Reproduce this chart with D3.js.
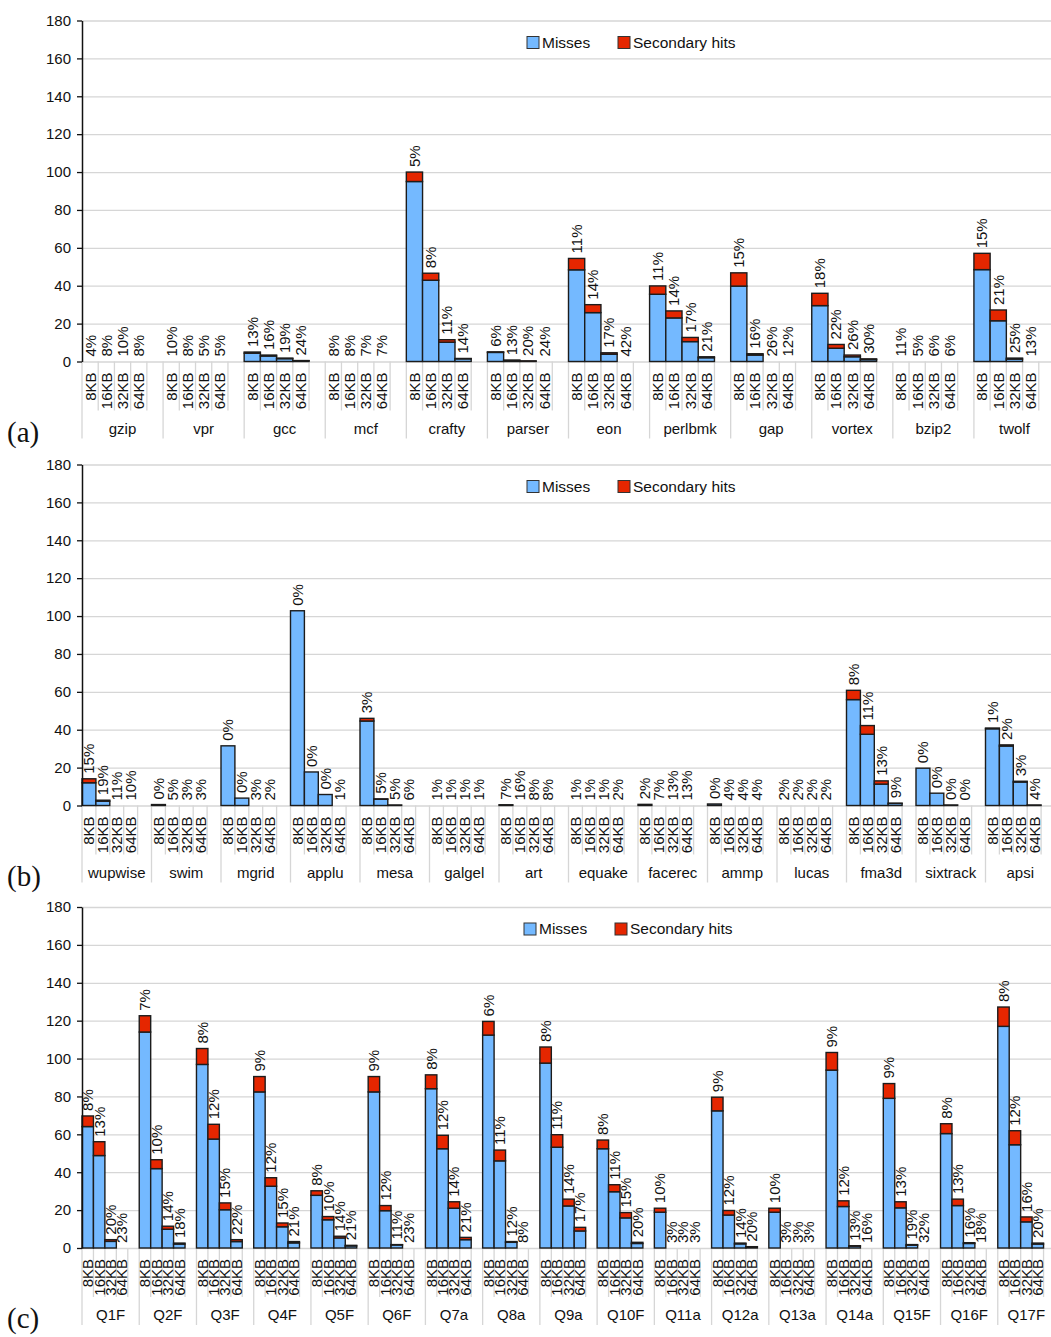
<!DOCTYPE html>
<html><head><meta charset="utf-8">
<script src="https://cdn.jsdelivr.net/npm/d3@7"></script>
<style>
body{margin:0;background:#fff}
svg text{font-family:Arial,"Liberation Sans",sans-serif;fill:#111}
</style>
</head><body>
<svg id="chart" width="1051" height="1337"></svg>
<script>
const sizes = ["8KB","16KB","32KB","64KB"];
const yTicks = [0,20,40,60,80,100,120,140,160,180];
const legendLabels = ["Misses","Secondary hits"];

// Panel (a)
const benchA = ["gzip","vpr","gcc","mcf","crafty","parser","eon","perlbmk","gap","vortex","bzip2","twolf"];
const missesA = [[0,0,0,0],[0,0,0,0],[4.4,2.9,1.5,0.4],[0,0,0,0],[95.0,42.9,10.2,1.4],[4.8,0.6,0.2,0],
  [48.4,25.8,3.8,0],[35.5,23.0,10.5,2.0],[39.8,3.4,0,0],[29.5,7.0,2.5,1.0],[0,0,0,0],[48.5,21.5,1.3,0]];
const secondaryA = [[0,0,0,0],[0,0,0,0],[0.6,0.5,0.3,0.1],[0,0,0,0],[5.0,3.7,1.3,0.2],[0.3,0.1,0.1,0],
  [6.0,4.2,0.8,0],[4.4,3.7,2.2,0.5],[7.0,0.7,0,0],[6.5,2.0,0.9,0.4],[0,0,0,0],[8.6,5.7,0.5,0]];
const pctA = [[4,8,10,8],[10,8,5,5],[13,16,19,24],[8,8,7,7],[5,8,11,14],[6,13,20,24],
  [11,14,17,42],[11,14,17,21],[15,16,26,12],[18,22,26,30],[11,5,6,6],[15,21,25,13]];

// Panel (b)
const benchB = ["wupwise","swim","mgrid","applu","mesa","galgel","art","equake","facerec","ammp","lucas","fma3d","sixtrack","apsi"];
const missesB = [[12.0,2.3,0,0],[0.5,0,0,0],[31.5,3.9,0,0],[102.8,17.7,5.8,0],[44.6,3.3,0.3,0],[0,0,0,0],
  [0.4,0,0,0],[0,0,0,0],[0.6,0,0,0],[0.8,0,0,0],[0,0,0,0],[55.9,37.6,11.3,1.1],[19.7,6.5,0.3,0],[40.5,31.4,12.4,0.3]];
const secondaryB = [[2.1,0.5,0,0],[0,0,0,0],[0,0,0,0],[0,0,0,0],[1.4,0.2,0,0],[0,0,0,0],
  [0,0,0,0],[0,0,0,0],[0,0,0,0],[0,0,0,0],[0,0,0,0],[4.9,4.6,1.7,0.1],[0,0,0,0],[0.4,0.6,0.4,0]];
const pctB = [[15,19,11,10],[0,5,3,3],[0,0,3,2],[0,0,0,1],[3,5,5,6],[1,1,1,1],[7,16,8,8],
  [1,1,1,2],[2,7,13,13],[0,4,4,4],[2,2,2,2],[8,11,13,9],[0,0,0,0],[1,2,3,4]];

// Panel (c)
const benchC = ["Q1F","Q2F","Q3F","Q4F","Q5F","Q6F","Q7a","Q8a","Q9a","Q10F","Q11a","Q12a","Q13a","Q14a","Q15F","Q16F","Q17F"];
const missesC = [[64.1,48.8,3.5,0],[114.0,41.9,9.9,2.1],[96.9,57.5,20.2,3.4],[82.4,32.6,11.2,2.7],[27.8,14.9,5.3,1.1],
  [82.4,19.7,1.6,0],[84.1,52.4,21.0,4.4],[112.4,46.0,3.0,0],[97.6,53.2,22.2,9.0],[52.4,29.7,15.9,2.4],[18.9,0,0,0],
  [72.4,17.4,2.2,0.6],[18.9,0,0,0],[93.9,21.9,1.0,0],[79.0,21.2,1.5,0],[60.4,22.4,2.4,0],[117.0,54.5,13.8,2.1]];
const secondaryC = [[5.6,7.3,0.9,0],[8.6,4.7,1.6,0.5],[8.4,7.8,3.6,1.0],[8.1,4.5,2.0,0.7],[2.4,1.7,0.9,0.3],
  [8.1,2.7,0.2,0],[7.3,7.1,3.4,1.2],[7.2,5.7,0.4,0],[8.5,6.6,3.6,1.9],[4.6,3.7,2.8,0.6],[2.1,0,0,0],
  [7.2,2.4,0.4,0.1],[2.1,0,0,0],[9.3,3.0,0.2,0],[7.8,3.2,0.3,0],[5.2,3.4,0.4,0],[10.2,7.4,2.6,0.5]];
const pctC = [[8,13,20,23],[7,10,14,18],[8,12,15,22],[9,12,15,21],[8,10,14,21],[9,12,11,23],[8,12,14,21],
  [6,11,12,8],[8,11,14,17],[8,11,15,20],[10,3,3,3],[9,12,14,20],[10,3,3,3],[9,12,13,16],[9,13,19,32],[8,13,16,18],[8,12,16,20]];

const svg = d3.select("#chart");
const X0 = 82, X1 = 1055, H = 341;
const BLUE = "#74B9FF", RED = "#E52600", STROKE = "#1c1c1c", GRID = "#d6d6d6";

function drawPanel(bench, misses, secondary, pct, axisY, letter, legendX) {
  const g = svg.append("g");
  const slots = [];
  bench.forEach(b => { sizes.forEach(s => slots.push(b + "|" + s)); slots.push(b + "|blank"); });
  const x = d3.scaleBand().domain(slots).range([X0, X1]).padding(0);
  const y = d3.scaleLinear().domain([0, 180]).range([axisY, axisY - H]);
  const bw = x.bandwidth();

  // gridlines
  const grid = g.append("g").attr("transform", `translate(${X0},0)`)
    .call(d3.axisLeft(y).tickValues(yTicks).tickSize(-(X1 - X0)).tickFormat(""));
  grid.select(".domain").remove();
  grid.selectAll("line").attr("stroke", GRID).attr("stroke-width", 1.3);

  // category separators and labels
  bench.forEach((b, i) => {
    const gx = x(b + "|8KB");
    g.append("line").attr("x1", gx).attr("x2", gx).attr("y1", axisY).attr("y2", axisY + 77)
      .attr("stroke", GRID).attr("stroke-width", 1.3);
    for (let k = 1; k <= 4; k++) {
      const sx = gx + k * bw;
      g.append("line").attr("x1", sx).attr("x2", sx).attr("y1", axisY).attr("y2", axisY + 49)
        .attr("stroke", GRID).attr("stroke-width", 1.3);
    }
    sizes.forEach(s => {
      const cx = x(b + "|" + s) + bw / 2;
      g.append("text").attr("transform", `translate(${cx},${axisY + 11}) rotate(-90)`)
        .attr("text-anchor", "end").attr("dy", "0.36em").attr("font-size", 15).text(s);
    });
    g.append("text").attr("x", gx + bw * 2.5).attr("y", axisY + 72).attr("text-anchor", "middle")
      .attr("font-size", 15).text(b);
  });

  // bars
  bench.forEach((b, i) => {
    sizes.forEach((s, j) => {
      const m = misses[i][j], sc = secondary[i][j];
      const bx = x(b + "|" + s);
      if (m > 0) {
        g.append("rect").attr("x", bx).attr("width", bw).attr("y", y(m)).attr("height", y(0) - y(m))
          .attr("fill", BLUE).attr("stroke", STROKE).attr("stroke-width", 1.4);
      }
      if (sc > 0) {
        g.append("rect").attr("x", bx).attr("width", bw).attr("y", y(m + sc)).attr("height", y(m) - y(m + sc))
          .attr("fill", RED).attr("stroke", STROKE).attr("stroke-width", 1.4);
      }
      g.append("text").attr("transform", `translate(${bx + bw / 2},${y(m + sc) - 5}) rotate(-90)`)
        .attr("text-anchor", "start").attr("dy", "0.36em").attr("font-size", 15).text(pct[i][j] + "%");
    });
  });

  // y axis
  const ax = g.append("g").attr("transform", `translate(${X0},0)`)
    .call(d3.axisLeft(y).tickValues(yTicks).tickSize(5).tickSizeOuter(0).tickPadding(6));
  ax.selectAll("text").attr("font-size", 15).attr("fill", "#111").style("font-family", "Arial, 'Liberation Sans', sans-serif");
  ax.selectAll("line").attr("stroke", "#111").attr("stroke-width", 1.3);
  ax.select(".domain").attr("stroke", "#111").attr("stroke-width", 1.5);

  // legend
  const ly = axisY - H + 22;
  const colors = [BLUE, RED];
  const offs = [0, 91];
  legendLabels.forEach((t, k) => {
    g.append("rect").attr("x", legendX + offs[k]).attr("y", ly - 6).attr("width", 12).attr("height", 12)
      .attr("fill", colors[k]).attr("stroke", "#333").attr("stroke-width", 1);
    g.append("text").attr("x", legendX + offs[k] + 15).attr("y", ly).attr("dy", "0.35em")
      .attr("font-size", 15.5).text(t);
  });

  // panel letter
  g.append("text").attr("x", 7).attr("y", axisY + 80).attr("font-size", 29)
    .style("font-family", "'Liberation Serif','Times New Roman',serif").text(letter);
}

drawPanel(benchA, missesA, secondaryA, pctA, 361.5, "(a)", 527);
drawPanel(benchB, missesB, secondaryB, pctB, 805.5, "(b)", 527);
drawPanel(benchC, missesC, secondaryC, pctC, 1248, "(c)", 524);
</script>
</body></html>
